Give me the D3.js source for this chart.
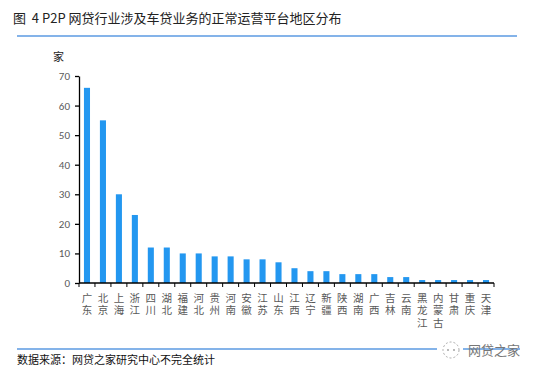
<!DOCTYPE html>
<html>
<head>
<meta charset="utf-8">
<script src="https://cdn.jsdelivr.net/npm/d3@7"></script>
<style>
  body { margin: 0; background: #fff; }
  text { font-family: "Microsoft YaHei", "Noto Sans CJK SC", sans-serif; white-space: pre; }
</style>
</head>
<body>
<div id="chart"></div>
<script>
// data
var regions = ["广东", "北京", "上海", "浙江", "四川", "湖北", "福建", "河北", "贵州", "河南",
    "安徽", "江苏", "山东", "江西", "辽宁", "新疆", "陕西", "湖南", "广西", "吉林",
    "云南", "黑龙江", "内蒙古", "甘肃", "重庆", "天津"];
var counts = [66, 55, 30, 23, 12, 12, 10, 10, 9, 9, 8, 8, 7, 5, 4, 4, 3, 3, 3, 2, 2, 1, 1, 1, 1, 1];
var yTicks = [0, 10, 20, 30, 40, 50, 60, 70];

var W = 538, H = 374;
var margin = { top: 76, right: 44, bottom: 91, left: 79 },
    width = W - margin.left - margin.right,
    height = H - margin.top - margin.bottom;

var root = d3.select("#chart").append("svg")
    .attr("width", W)
    .attr("height", H);

// title + rules
root.append("text")
    .attr("x", 13).attr("y", 23)
    .style("font-size", "13px").attr("fill", "#222")
    .text("图  4 P2P 网贷行业涉及车贷业务的正常运营平台地区分布");
root.append("line")
    .attr("x1", 17).attr("x2", 517).attr("y1", 36).attr("y2", 36)
    .attr("stroke", "#0b68d4").attr("stroke-width", 1.2);
root.append("line")
    .attr("x1", 17).attr("x2", 520).attr("y1", 349).attr("y2", 349)
    .attr("stroke", "#0b68d4").attr("stroke-width", 1.2);
root.append("text")
    .attr("x", 17).attr("y", 364)
    .style("font-size", "11px").attr("fill", "#111")
    .text("数据来源：网贷之家研究中心不完全统计");

// watermark
var wm = root.append("g").attr("transform", "translate(451,350)");
wm.append("rect").attr("x", -14).attr("y", -10).attr("width", 26).attr("height", 20).attr("fill", "#fff");
wm.append("circle").attr("r", 8).attr("fill", "none")
    .attr("stroke", "#aaa").attr("stroke-dasharray", "2,2");
wm.append("circle").attr("cx", -3).attr("cy", 0).attr("r", 0.9).attr("fill", "#999");
wm.append("circle").attr("cx", 3).attr("cy", 0).attr("r", 0.9).attr("fill", "#999");
wm.append("text").attr("x", 17).attr("y", 5)
    .style("font-size", "13px").attr("fill", "#777").text("网贷之家");

var svg = root.append("g")
    .attr("transform", "translate(" + margin.left + "," + margin.top + ")");

var x = d3.scaleBand()
    .domain(regions)
    .range([0, width])
    .paddingInner(0.62)
    .paddingOuter(0.31);

var y = d3.scaleLinear()
    .domain([0, 70])
    .range([height, 0]);

// unit label
svg.append("text")
    .attr("x", -26).attr("y", -15)
    .style("font-size", "11px").attr("fill", "#222")
    .text("家");

// bars
svg.selectAll(".bar")
    .data(counts)
    .enter().append("rect")
    .attr("class", "bar")
    .attr("fill", "#2397f0")
    .attr("x", function (d, i) { return x(regions[i]); })
    .attr("width", x.bandwidth())
    .attr("y", function (d) { return y(d); })
    .attr("height", function (d) { return height - y(d); });

// y axis
var yAxis = svg.append("g")
    .call(d3.axisLeft(y).tickValues(yTicks).tickSize(4).tickPadding(5).tickSizeOuter(0));
yAxis.selectAll("text").style("font-size", "11px").attr("fill", "#595959")
    .style("font-family", "Calibri, Carlito, 'Liberation Sans', sans-serif");
yAxis.selectAll("line, path").attr("stroke", "#000").attr("stroke-width", 1.3);

// x axis: ticks between categories
var step = x.step();
var bounds = d3.range(regions.length + 1).map(function (i) { return i * step; });
var xAxis = svg.append("g").attr("transform", "translate(0," + height + ")");
xAxis.append("line").attr("x1", 0).attr("x2", width)
    .attr("stroke", "#000").attr("stroke-width", 1.3);
xAxis.selectAll(".tk").data(bounds).enter().append("line")
    .attr("x1", function (d) { return d; }).attr("x2", function (d) { return d; })
    .attr("y1", 0).attr("y2", 4)
    .attr("stroke", "#000").attr("stroke-width", 1);

// vertical category labels, one character per row
regions.forEach(function (name) {
    name.split("").forEach(function (ch, k) {
        xAxis.append("text")
            .attr("text-anchor", "middle")
            .attr("x", x(name) + x.bandwidth() / 2)
            .attr("y", 19 + k * 12.3)
            .style("font-size", "10.5px").attr("fill", "#595959")
            .style("font-family", "'Liberation Sans', 'Noto Sans CJK SC', sans-serif")
            .text(ch);
    });
});
</script>
</body>
</html>
